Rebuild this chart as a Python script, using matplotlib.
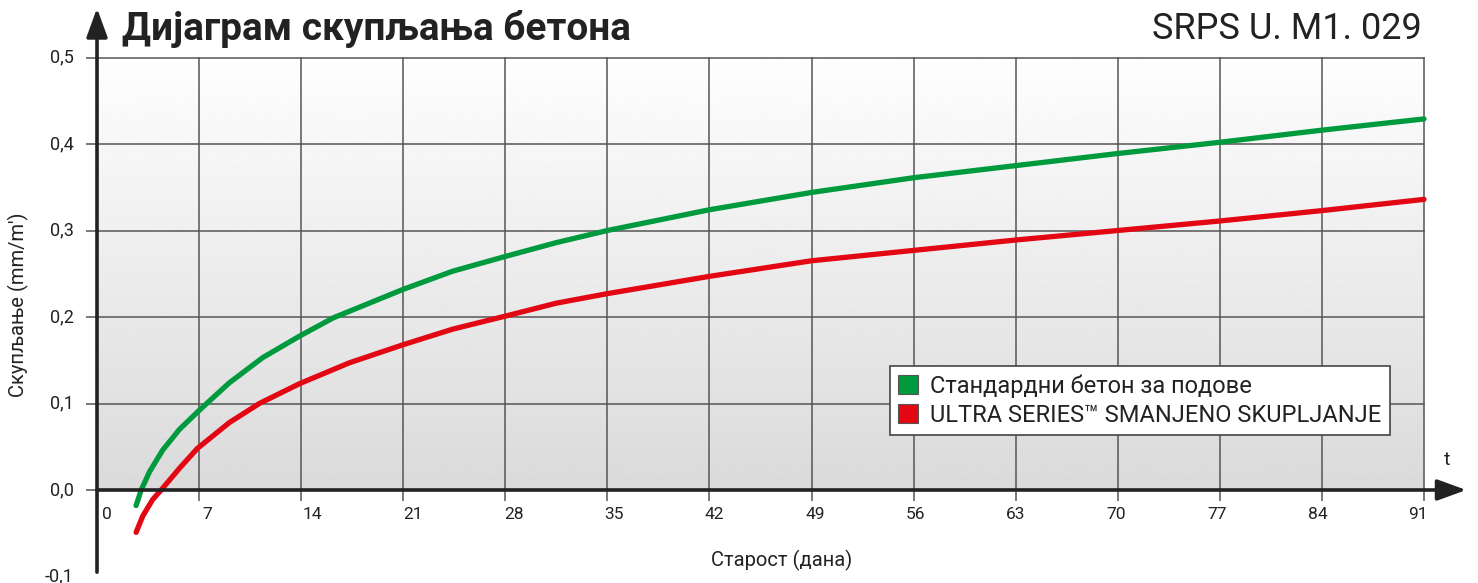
import matplotlib.pyplot as plt
import numpy as np
from matplotlib.patches import Patch

plt.rcParams['font.family'] = ['Roboto', 'DejaVu Sans']

# Старост (дана) и скупљање (mm/m') očitano sa dijagrama
dani_std = [2.68, 3.03, 3.6, 4.5, 5.65, 6.88, 7.52, 9.08, 11.36, 13.9, 16.2, 21, 24.4, 28,
            31.5, 35, 42, 49, 56, 63, 70, 77, 84, 91]
skup_std = [-0.018, 0.0, 0.021, 0.046, 0.070, 0.090, 0.1, 0.124, 0.153, 0.178, 0.199, 0.232,
            0.253, 0.270, 0.286, 0.300, 0.324, 0.344, 0.361, 0.375, 0.389, 0.402, 0.416, 0.429]

dani_ultra = [2.68, 3.14, 3.82, 4.4, 5.65, 6.88, 9.08, 11.13, 13.9, 17.3, 21, 24.4, 28,
              31.5, 35, 42, 49, 56, 63, 70, 77, 84, 91]
skup_ultra = [-0.049, -0.030, -0.011, 0.0, 0.025, 0.048, 0.078, 0.1, 0.123, 0.147, 0.168,
              0.186, 0.201, 0.216, 0.227, 0.247, 0.265, 0.277, 0.289, 0.300, 0.311, 0.323, 0.336]

x_tikovi = [0, 7, 14, 21, 28, 35, 42, 49, 56, 63, 70, 77, 84, 91]
y_tikovi = [-0.1, 0.0, 0.1, 0.2, 0.3, 0.4, 0.5]
y_oznake = ['-0,1', '0,0', '0,1', '0,2', '0,3', '0,4', '0,5']

zelena = '#009a3e'
crvena = '#e30613'
tamna = '#222222'
mreza = '#555555'

fig = plt.figure(figsize=(14.78, 5.83), dpi=100)
ax = fig.add_axes([97 / 1478, 6.5 / 583, (1424 - 97) / 1478, (576.5 - 57.5) / 583])
ax.set_xlim(0, 91)
ax.set_ylim(-0.1, 0.5)

# pozadina sa prelivom (samo iznad nule)
prelaz = np.linspace(0.995, 0.855, 256).reshape(-1, 1)
ax.imshow(prelaz, extent=[0, 91, 0, 0.5], aspect='auto', cmap='gray', vmin=0, vmax=1,
          zorder=0, origin='upper')

# mreža
for x in x_tikovi[1:]:
    ax.plot([x, x], [0, 0.5], color=mreza, lw=1.1, zorder=1, clip_on=False)
for y in y_tikovi[2:]:
    ax.plot([0, 91], [y, y], color=mreza, lw=1.1, zorder=1, clip_on=False)

for s in ax.spines.values():
    s.set_visible(False)

ax.spines['bottom'].set_position(('data', 0))
ax.set_xticks(x_tikovi[1:])
ax.set_xticklabels([])
ax.set_yticks(y_tikovi[1:])
ax.set_yticklabels([])
ax.tick_params(axis='x', length=8, width=1.1, color=mreza, direction='out')
ax.tick_params(axis='y', length=8, width=1.1, color=mreza, direction='out')

# oznake na osama
for x in x_tikovi:
    ax.text(x * 0.9845 + 0.33, -0.02, str(x), ha='left', va='top', fontsize=12.5, color=tamna)
for y, t in zip(y_tikovi, y_oznake):
    ax.text(-1.6, y, t, ha='right', va='center', fontsize=13, color=tamna)

# ose sa strelicama
ax.annotate('', xy=(93.9, 0), xytext=(0, 0), xycoords='data',
            arrowprops=dict(arrowstyle='-|>,head_length=1.1,head_width=0.4', lw=2.6,
                            color=tamna, shrinkA=0, shrinkB=0, mutation_scale=16),
            annotation_clip=False, zorder=5)
ax.annotate('', xy=(0, 0.557), xytext=(0, -0.095), xycoords='data',
            arrowprops=dict(arrowstyle='-|>,head_length=1.1,head_width=0.4', lw=2.6,
                            color=tamna, shrinkA=0, shrinkB=0, mutation_scale=16),
            annotation_clip=False, zorder=5)

# krive
ax.plot(dani_std, skup_std, color=zelena, lw=3.8, solid_capstyle='round',
        solid_joinstyle='round', zorder=4, clip_on=False)
ax.plot(dani_ultra, skup_ultra, color=crvena, lw=3.8, solid_capstyle='round',
        solid_joinstyle='round', zorder=4, clip_on=False)

# natpisi
fig.text(122 / 1478, 1 - 29 / 583, 'Дијаграм скупљања бетона', fontsize=28,
         fontweight='bold', ha='left', va='center', color=tamna)
fig.text(1422 / 1478, 1 - 29 / 583, 'SRPS U. M1. 029', fontsize=26,
         ha='right', va='center', color=tamna)
fig.text(18 / 1478, 1 - 305 / 583, "Скупљање (mm/m')", rotation=90, fontsize=14.5,
         ha='center', va='center', color=tamna)
fig.text(782 / 1478, 1 - 560 / 583, 'Старост (дана)', fontsize=14.5,
         ha='center', va='center', color=tamna)
fig.text(1447 / 1478, 1 - 460 / 583, 't', fontsize=14, ha='center', va='center', color=tamna)

# legenda
ruke = [Patch(facecolor=zelena, edgecolor='#555555', lw=0.8),
        Patch(facecolor=crvena, edgecolor='#555555', lw=0.8)]
leg = ax.legend(ruke, ['Стандардни бетон за подове', 'ULTRA SERIES™ SMANJENO SKUPLJANJE'],
                loc='upper left', bbox_to_anchor=(890 / 1478, 1 - 366 / 583),
                bbox_transform=fig.transFigure, fontsize=17, fancybox=False,
                edgecolor='#444444', framealpha=1, handlelength=0.85, handleheight=0.85,
                handletextpad=0.5, borderpad=0.35, labelspacing=0.25, borderaxespad=0)
leg.get_frame().set_linewidth(1.2)
for t in leg.get_texts():
    t.set_color(tamna)
leg.set_zorder(6)

fig.savefig('out.png', dpi=100)
